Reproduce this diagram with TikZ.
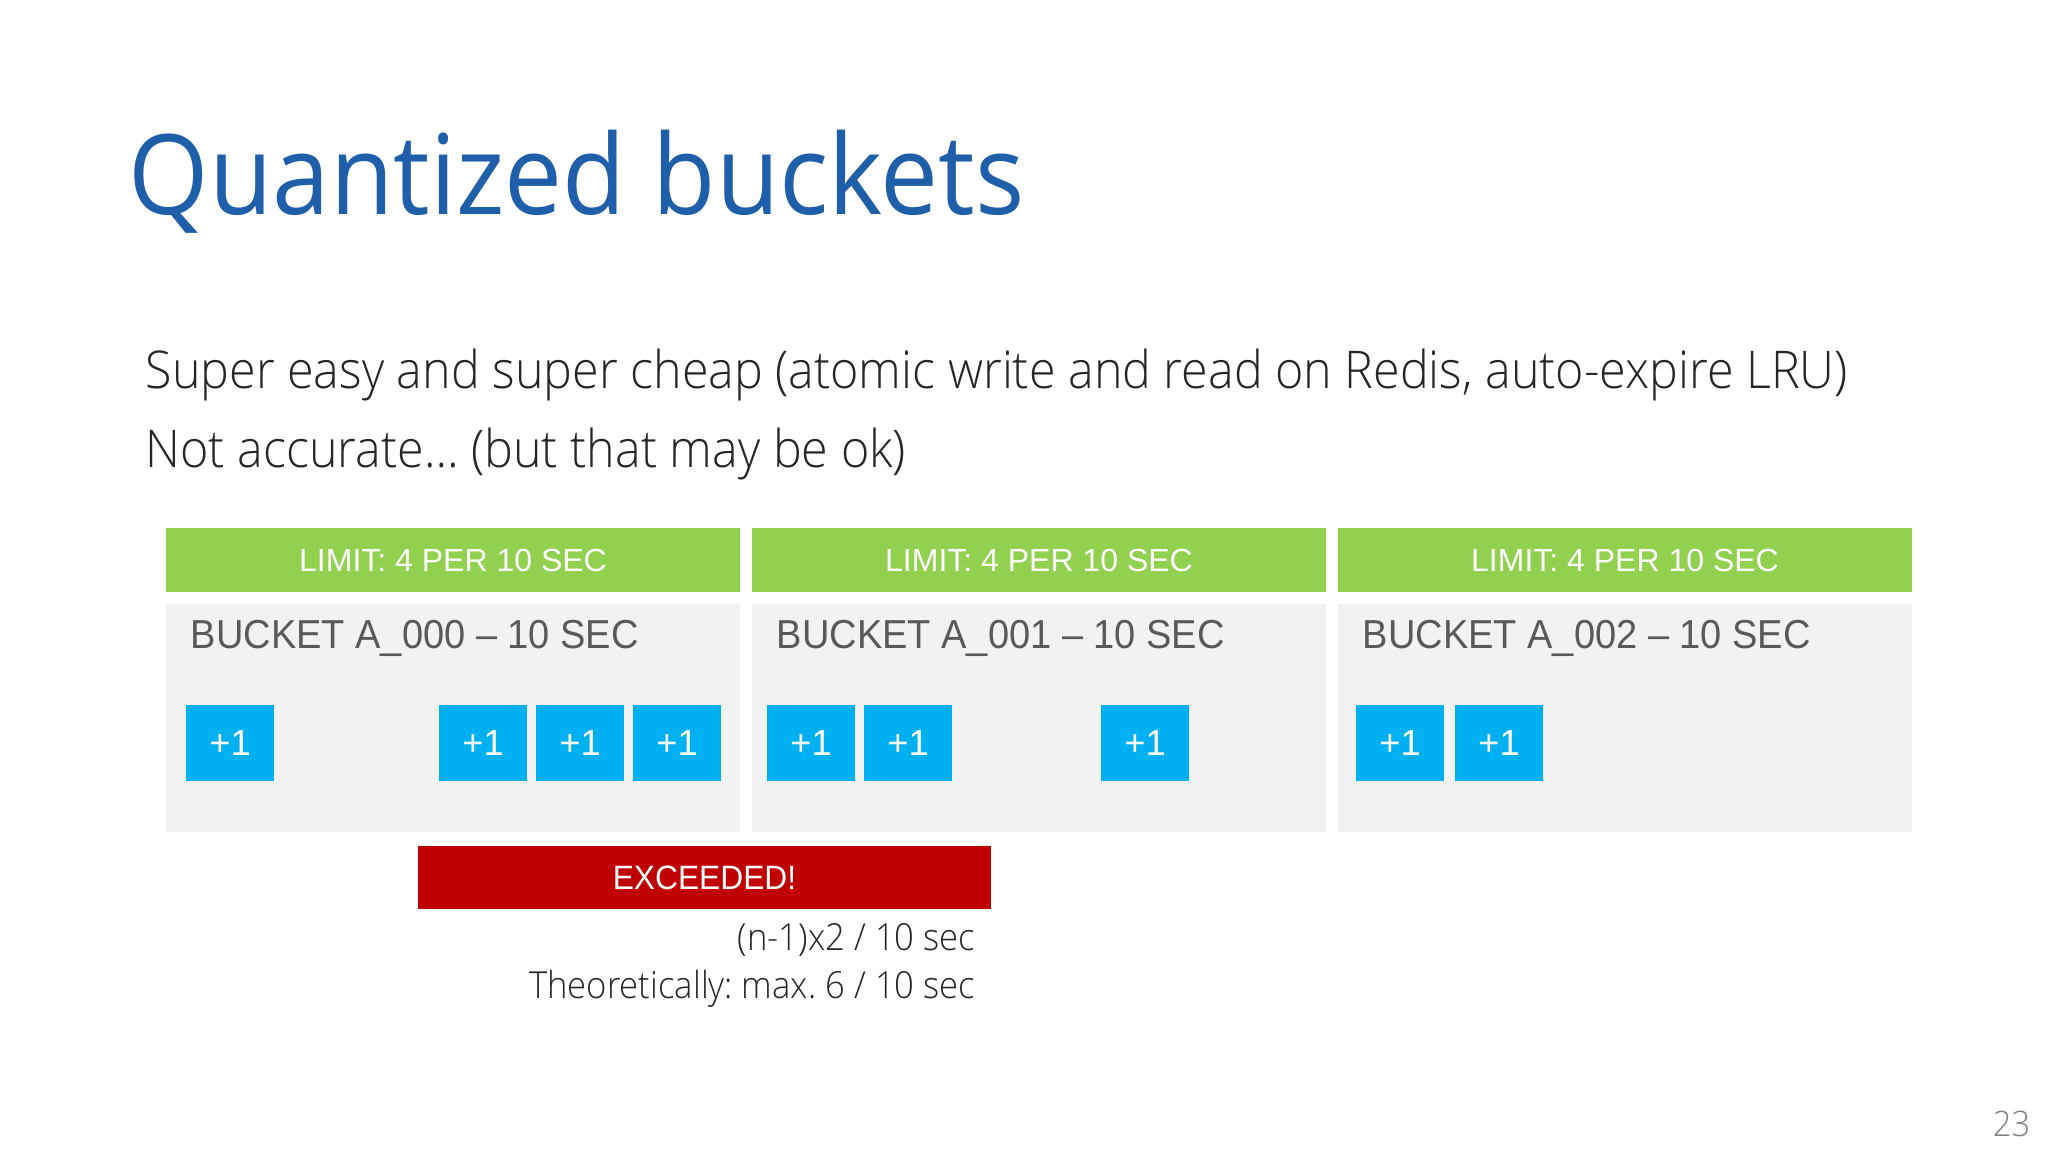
\documentclass[tikz,border=0pt]{standalone}
\usepackage{fontspec}
\setmainfont{Liberation Sans}
\newfontfamily\titlefont{Open Sans}[FakeStretch=0.93]
\newfontfamily\bodyfont{Open Sans Light}[FakeStretch=0.93]
\newfontfamily\bucketfont{Liberation Sans}[FakeStretch=0.94]
\usetikzlibrary{positioning}
\definecolor{limitgreen}{HTML}{92D050}
\definecolor{hitblue}{HTML}{00B0F0}
\definecolor{exceedred}{HTML}{C00000}
\definecolor{bucketgray}{HTML}{F2F2F2}
\definecolor{titleblue}{HTML}{1F5EA8}
\definecolor{labelgray}{HTML}{595959}
\definecolor{textdark}{HTML}{262626}
\frenchspacing
\tikzset{
  limitbar/.style={fill=limitgreen, text=white, minimum width=5.74cm, minimum height=.64cm,
    inner sep=0pt, font=\fontsize{9.1}{11}\selectfont},
  bucketbox/.style={fill=bucketgray, minimum width=5.74cm, minimum height=2.27cm, inner sep=0pt},
  buckettitle/.style={text=labelgray, inner sep=0pt, font=\bucketfont\fontsize{11.5}{14}\selectfont},
  hitbox/.style={fill=hitblue, text=white, minimum width=.87cm, minimum height=.76cm,
    inner sep=0pt, font=\fontsize{10.3}{12}\selectfont},
  exceedbar/.style={fill=exceedred, text=white, minimum width=5.73cm, minimum height=.63cm,
    inner sep=0pt, font=\bucketfont\fontsize{9.6}{12}\selectfont},
  note/.style={text=textdark, inner sep=0pt, font=\bodyfont\fontsize{10.6}{13}\selectfont},
}
\begin{document}
\begin{tikzpicture}[x=0.01cm, y=-0.01cm]
\useasboundingbox (0,0) rectangle (2048,1152);
% heading and bullet lines
\node[anchor=base west, inner sep=0pt, text=titleblue, font=\titlefont\fontsize{31.6}{38}\selectfont]
  (title) at (128,215) {Quantized buckets};
\node[anchor=base west, inner sep=0pt, text=textdark, font=\bodyfont\fontsize{14.8}{18}\selectfont]
  (line1) at (145,389) {Super easy and super cheap (atomic write and read on Redis, auto-expire LRU)};
\node[anchor=base west, inner sep=0pt, text=textdark, font=\bodyfont\fontsize{14.8}{18}\selectfont]
  (line2) at (145,468) {Not accurate… (but that may be ok)};
% buckets
\foreach \i/\x in {0/453,1/1039,2/1625}
{
  \node[limitbar] (limit\i) at (\x,560) {LIMIT: 4 PER 10 SEC};
  \node[bucketbox] (bucket\i) at (\x,718) {};
  \node[buckettitle, anchor=base west] (name\i) at ([xshift=.25cm,yshift=-.45cm]bucket\i.north west)
    {BUCKET A\_00\i{} – 10 SEC};
}
% requests
\foreach \x/\n in {230/1,483/2,580/3,677/4,811/5,908/6,1145/7,1400/8,1499/9}
  \node[hitbox] (hit\n) at (\x,743) {+1};
\node[exceedbar] (exceeded) at (704.5,877.5) {EXCEEDED!};
\node[note, anchor=base east] (formula) at (976,950) {(n-1)x2 / 10 sec};
\node[note, anchor=base east] (theory) at (976,998) {Theoretically: max. 6 / 10 sec};
\node[anchor=base east, inner sep=0pt, text=gray, font=\bodyfont\fontsize{10}{12}\selectfont]
  (page) at (2031,1136) {23};
\end{tikzpicture}
\end{document}
